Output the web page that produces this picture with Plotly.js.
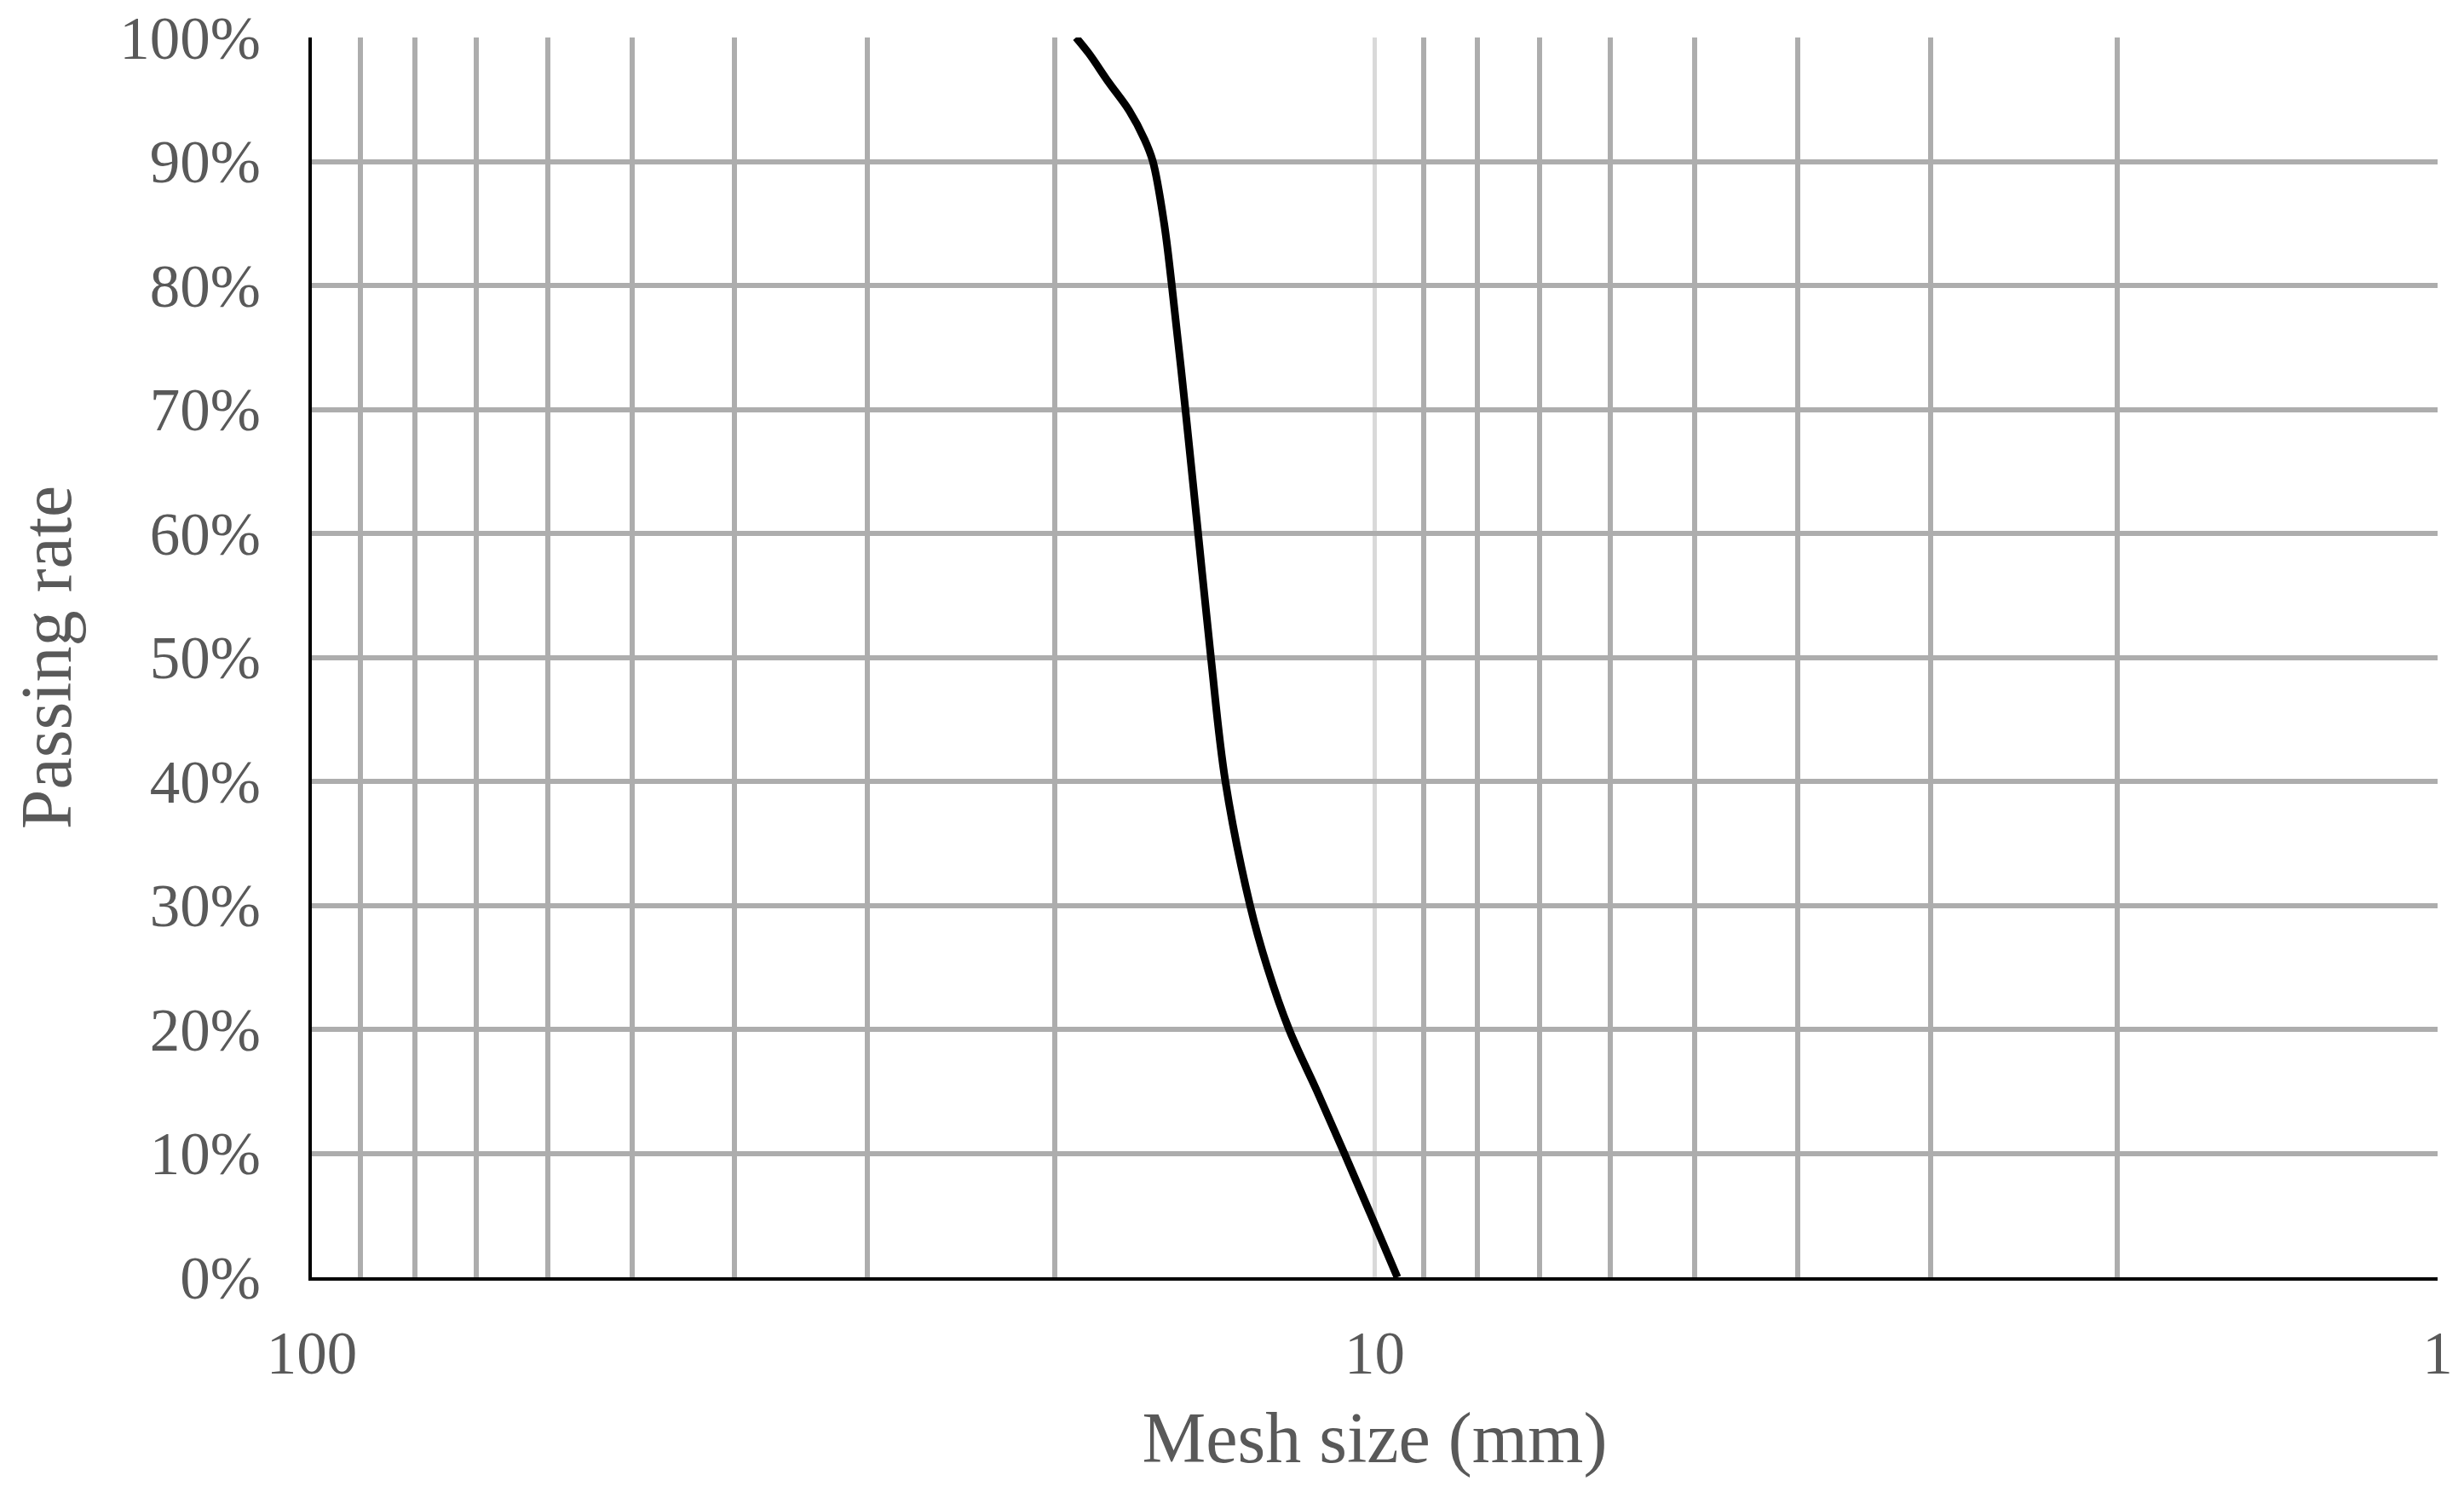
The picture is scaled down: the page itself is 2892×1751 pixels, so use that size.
<!DOCTYPE html>
<html>
<head>
<meta charset="utf-8">
<script src="https://cdn.plot.ly/plotly-3.0.1.min.js"></script>
<style>
  html, body { margin: 0; padding: 0; background: #ffffff; }
  #chart { width: 2892px; height: 1751px; }
</style>
</head>
<body>
<div id="chart"></div>
<script>
// Mesh size (mm) and passing rate (%)
const meshSize = [19.10, 18.57, 17.80, 17.02, 16.47, 16.17, 15.78, 15.52, 15.07, 14.66, 14.26, 13.82, 13.10, 12.62, 12.04, 11.33, 10.68, 10.08, 9.52];
const passingRate = [100, 98.7, 96.4, 94.1, 91.8, 90, 85, 80, 70, 60, 50, 40, 30, 25, 20, 15, 10, 5, 0];

const xMajorTicks = [100, 10, 1];
const xMajorLabels = ['100', '10', '1'];
const xMinorTicks = [90, 80, 70, 60, 50, 40, 30, 20, 9, 8, 7, 6, 5, 4, 3, 2];
const yTicks = [0, 10, 20, 30, 40, 50, 60, 70, 80, 90, 100];
const yTickLabels = ['0%', '10%', '20%', '30%', '40%', '50%', '60%', '70%', '80%', '90%', '100%'];

const fontFamily = '"Liberation Serif", "Times New Roman", serif';

const trace = {
  x: meshSize,
  y: passingRate,
  type: 'scatter',
  mode: 'lines',
  line: { color: '#000000', width: 9, shape: 'spline', smoothing: 1 },
  showlegend: false,
  hoverinfo: 'skip'
};

const layout = {
  width: 2892,
  height: 1751,
  paper_bgcolor: '#ffffff',
  plot_bgcolor: '#ffffff',
  margin: { l: 366, r: 31, t: 44, b: 252 },
  showlegend: false,
  font: { family: fontFamily, color: '#595959', size: 71 },
  xaxis: {
    type: 'log',
    range: [2, 0],
    tickmode: 'array',
    tickvals: xMajorTicks,
    ticktext: xMajorLabels,
    ticks: '',
    ticklabelstandoff: 24,
    tickfont: { family: fontFamily, size: 71, color: '#595959' },
    showgrid: true,
    gridcolor: '#D9D9D9',
    gridwidth: 5,
    minor: {
      tickmode: 'array',
      tickvals: xMinorTicks,
      showgrid: true,
      gridcolor: '#ADADAD',
      gridwidth: 6,
      ticks: ''
    },
    showline: true,
    linecolor: '#000000',
    linewidth: 4,
    zeroline: false,
    automargin: false,
    title: {
      text: 'Mesh size (mm)',
      font: { family: fontFamily, size: 84, color: '#595959' },
      standoff: 32
    }
  },
  yaxis: {
    range: [0, 100],
    tickmode: 'array',
    tickvals: yTicks,
    ticktext: yTickLabels,
    ticks: '',
    ticklabelstandoff: 42,
    tickfont: { family: fontFamily, size: 71, color: '#595959' },
    showgrid: true,
    gridcolor: '#ADADAD',
    gridwidth: 6,
    showline: true,
    linecolor: '#000000',
    linewidth: 4,
    zeroline: false,
    automargin: false,
    title: {
      text: 'Passing rate',
      font: { family: fontFamily, size: 84, color: '#595959' },
      standoff: 30
    }
  }
};

Plotly.newPlot('chart', [trace], layout, { staticPlot: true, displayModeBar: false });
</script>
</body>
</html>
